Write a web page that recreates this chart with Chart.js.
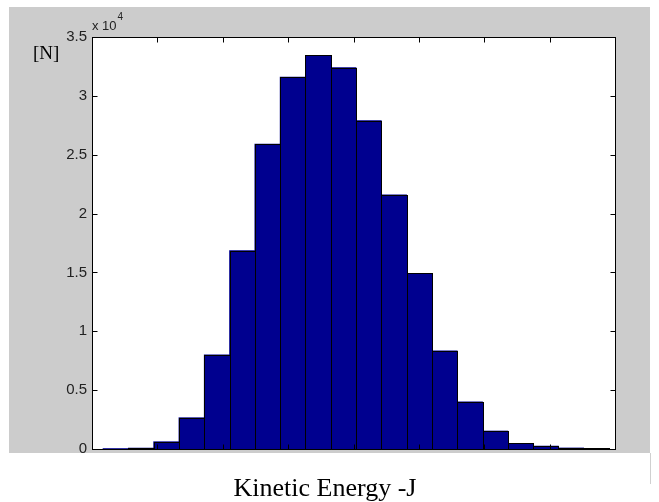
<!DOCTYPE html>
<html>
<head>
<meta charset="utf-8">
<script src="https://cdn.jsdelivr.net/npm/chart.js@4"></script>
<style>
  html, body { margin: 0; padding: 0; background: #ffffff; }
  #wrap { width: 659px; height: 502px; }
</style>
</head>
<body>
<div id="wrap"><canvas id="histChart" width="659" height="502"></canvas></div>
<script>
// Histogram bins (x axis in tick units, 8 intervals, no labels shown)
const binCenters = [0.362, 0.749, 1.136, 1.523, 1.910, 2.297, 2.684, 3.071, 3.458, 3.845,
                    4.232, 4.619, 5.006, 5.393, 5.780, 6.167, 6.554, 6.941, 7.328, 7.715];
// Counts per bin [N]
const binCounts = [40, 80, 620, 2660, 8000, 16850, 25900, 31600, 33450, 32400,
                   27900, 21600, 14920, 8350, 4000, 1530, 480, 250, 90, 45];
const xTicks = [0, 1, 2, 3, 4, 5, 6, 7, 8];
const yTicks = [0, 5000, 10000, 15000, 20000, 25000, 30000, 35000];

const yLabel = '[N]';
const xLabel = 'Kinetic Energy -J';

// MATLAB-style figure frame, bar edges, inward ticks and annotations
const matlabFrame = {
    id: 'matlabFrame',
    beforeDraw(chart) {
        const c = chart.ctx;
        const a = chart.chartArea;
        c.save();
        c.fillStyle = '#ffffff';
        c.fillRect(0, 0, chart.width, chart.height);
        c.fillStyle = '#cccccc';
        c.fillRect(9, 7, 641, 446);
        c.fillStyle = '#ffffff';
        c.fillRect(a.left, a.top, a.right - a.left, a.bottom - a.top);
        c.restore();
    },
    afterDatasetsDraw(chart) {
        const c = chart.ctx;
        const a = chart.chartArea;
        const xs = chart.scales.x;
        const ys = chart.scales.y;
        c.save();

        // crisp black bar outlines, snapped to whole pixels
        c.strokeStyle = '#000000';
        c.lineWidth = 1;
        chart.getDatasetMeta(0).data.forEach(bar => {
            const l = Math.round(bar.x - bar.width / 2);
            const r = Math.round(bar.x + bar.width / 2);
            const t = Math.round(bar.y);
            const b = Math.round(bar.base);
            c.fillStyle = '#00008f';
            c.fillRect(l, t, r - l, b - t);
            c.strokeRect(l + 0.5, t + 0.5, r - l, b - t);
        });

        // cropped bottom of the figure
        c.fillStyle = '#ffffff';
        c.fillRect(0, 453, chart.width, chart.height - 453);
        c.strokeStyle = '#d0d0d0';
        c.beginPath();
        c.moveTo(650.5, 453);
        c.lineTo(650.5, 484);
        c.stroke();

        c.strokeStyle = '#000000';
        const L = Math.round(a.left) + 0.5, R = Math.round(a.right) + 0.5;
        const T = Math.round(a.top) + 0.5, B = Math.round(a.bottom) + 0.5;
        c.strokeRect(L, T, R - L, B - T);
        const tl = 5;
        c.beginPath();
        xTicks.slice(1, -1).forEach(v => {
            const px = Math.round(xs.getPixelForValue(v)) + 0.5;
            c.moveTo(px, T); c.lineTo(px, T + tl);
            c.moveTo(px, B); c.lineTo(px, B - tl);
        });
        yTicks.slice(1, -1).forEach(v => {
            const py = Math.round(ys.getPixelForValue(v)) + 0.5;
            c.moveTo(L, py); c.lineTo(L + tl, py);
            c.moveTo(R, py); c.lineTo(R - tl, py);
        });
        c.stroke();
        c.restore();
    },
    afterDraw(chart) {
        const c = chart.ctx;
        c.save();
        c.fillStyle = '#222222';
        c.textBaseline = 'alphabetic';
        c.textAlign = 'left';
        c.font = '13px "Liberation Sans", Arial, sans-serif';
        c.fillText('x 10', 92, 30);
        const w = c.measureText('x 10').width;
        c.font = '10px "Liberation Sans", Arial, sans-serif';
        c.fillText('4', 92 + w + 1, 20);

        c.fillStyle = '#000000';
        c.font = '19px "Liberation Serif", "Times New Roman", serif';
        c.fillText(yLabel, 33, 59);

        c.textAlign = 'center';
        c.font = '26px "Liberation Serif", "Times New Roman", serif';
        c.fillText(xLabel, 325, 496);
        c.restore();
    }
};

new Chart(document.getElementById('histChart'), {
    type: 'bar',
    data: {
        datasets: [{
            data: binCenters.map((x, i) => ({ x: x, y: binCounts[i] })),
            backgroundColor: '#00008f',
            borderWidth: 0,
            barPercentage: 1,
            categoryPercentage: 1
        }]
    },
    options: {
        responsive: false,
        animation: false,
        events: [],
        layout: { padding: { left: 0, top: 37, right: 44, bottom: 53 } },
        plugins: {
            legend: { display: false },
            tooltip: { enabled: false }
        },
        scales: {
            x: {
                type: 'linear',
                min: xTicks[0],
                max: xTicks[xTicks.length - 1],
                offset: false,
                grid: { display: false, drawTicks: false },
                border: { display: false },
                ticks: { display: false, stepSize: 1 },
                afterFit(s) {
                    s.height = 0;
                    s.paddingLeft = 0; s.paddingRight = 0;
                }
            },
            y: {
                min: yTicks[0],
                max: yTicks[yTicks.length - 1],
                grid: { display: false, drawTicks: false },
                border: { display: false },
                ticks: {
                    stepSize: 5000,
                    padding: 5,
                    color: '#222222',
                    font: { family: '"Liberation Sans", Arial, sans-serif', size: 15 },
                    callback: v => String(v / 10000)
                },
                afterFit(s) {
                    s.width = 92;
                    s.paddingTop = 0; s.paddingBottom = 0;
                }
            }
        }
    },
    plugins: [matlabFrame]
});
</script>
</body>
</html>
